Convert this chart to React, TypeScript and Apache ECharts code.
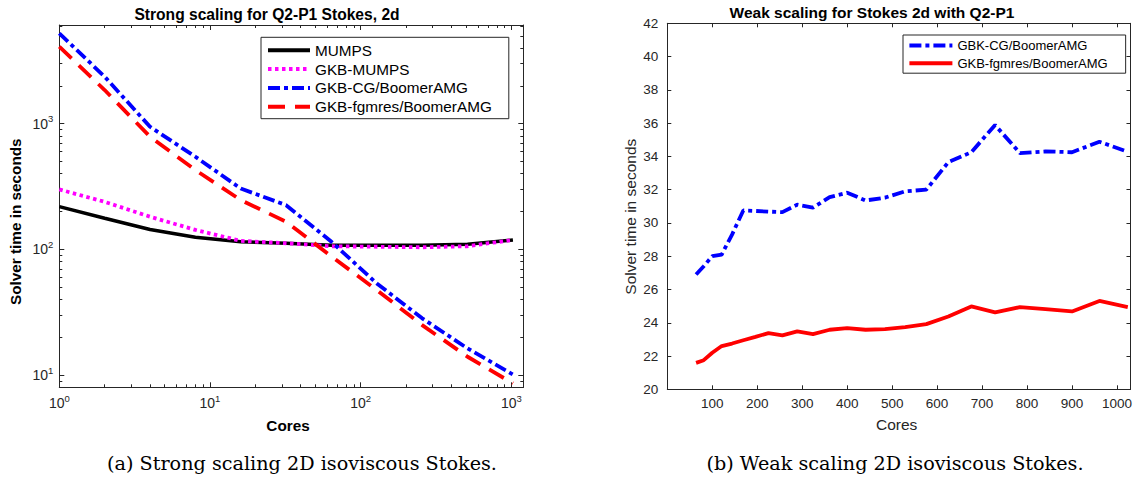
import React, { useEffect, useRef } from 'react';
import * as echarts from 'echarts';

// ---- Strong scaling (left) ----
const strongCores = [1, 2, 4, 8, 16, 32, 64, 128, 256, 512, 1024];
const mumps = [219, 177, 144, 125, 115, 112, 108, 108, 108, 110, 119];
const gkbMumps = [300, 239, 182, 143, 117, 112, 106, 105, 104, 106, 119];
const gkbCg = [5236, 2366, 946, 546, 305, 225, 115, 53.6, 28.3, 16.3, 10.1];
const gkbFgmres = [4100, 1853, 788, 428, 247, 166, 88, 47.4, 25, 14, 8.6];

// ---- Weak scaling (right) ----
const weakCores = [64, 81, 100, 121, 144, 169, 196, 225, 256, 289, 324, 361, 400, 441, 484, 529, 576, 625, 676, 729, 784, 841, 900, 961, 1024];
const weakCg = [26.9, 27.4, 28.0, 28.1, 29.3, 30.75, 30.72, 30.68, 30.65, 31.1, 30.92, 31.55, 31.82, 31.35, 31.52, 31.9, 32.0, 33.65, 34.25, 35.88, 34.2, 34.3, 34.25, 34.88, 34.28];
const weakFgmres = [21.59, 21.75, 22.2, 22.6, 22.75, 22.95, 23.15, 23.38, 23.24, 23.48, 23.32, 23.58, 23.68, 23.58, 23.62, 23.74, 23.92, 24.38, 24.98, 24.62, 24.94, 24.82, 24.68, 25.31, 24.94];

const strongLegend = ['MUMPS', 'GKB-MUMPS', 'GKB-CG/BoomerAMG', 'GKB-fgmres/BoomerAMG'];
const weakLegend = ['GBK-CG/BoomerAMG', 'GKB-fgmres/BoomerAMG '];

const AXIS = '#262626';
const SANS = "'Liberation Sans', Arial, Helvetica, sans-serif";
const SERIF = "'DejaVu Serif', 'Liberation Serif', serif";

const supLabel = (v: number) => {
  const e = Math.log10(v);
  const r = Math.round(e);
  if (Math.abs(e - r) > 1e-6) return '';
  return `{b|10}{s|${r}}`;
};
const richSup = {
  b: { fontSize: 14, fontFamily: SANS, color: AXIS, lineHeight: 20 },
  s: { fontSize: 9.5, fontFamily: SANS, color: AXIS, lineHeight: 10, verticalAlign: 'top' },
};

const line = { show: true, onZero: false, lineStyle: { color: AXIS, width: 1 } };
const tick = (len: number) => ({ show: true, inside: true, length: len, lineStyle: { color: AXIS, width: 1 } });
const minor = { show: true, splitNumber: 9, length: 3, lineStyle: { color: AXIS, width: 1 } };

function buildOption() {
  const logX = (pos: string, labels: boolean) => ({
    type: 'log', logBase: 10, gridIndex: 0, position: pos, min: 1, max: 1200,
    axisLine: line, axisTick: tick(5), minorTick: minor,
    splitLine: { show: false }, minorSplitLine: { show: false },
    axisLabel: labels
      ? { show: true, margin: 6, formatter: supLabel, rich: richSup, showMinLabel: true, showMaxLabel: false }
      : { show: false },
  });
  const logY = (pos: string, labels: boolean) => ({
    type: 'log', logBase: 10, gridIndex: 0, position: pos, min: 8, max: 6100,
    axisLine: line, axisTick: tick(5), minorTick: minor,
    splitLine: { show: false }, minorSplitLine: { show: false },
    axisLabel: labels
      ? { show: true, margin: 6, formatter: supLabel, rich: richSup, showMinLabel: false, showMaxLabel: false }
      : { show: false },
  });
  const linX = (pos: string, labels: boolean) => ({
    type: 'value', gridIndex: 1, position: pos, min: 0, max: 1030, interval: 100,
    axisLine: line, axisTick: tick(4), splitLine: { show: false },
    axisLabel: labels
      ? {
          show: true, margin: 7, fontSize: 13.5, fontFamily: SANS, color: AXIS,
          formatter: (v: number) => (v > 0 && v % 100 === 0 ? String(v) : ''),
        }
      : { show: false },
  });
  const linY = (pos: string, labels: boolean) => ({
    type: 'value', gridIndex: 1, position: pos, min: 20, max: 42, interval: 2,
    axisLine: line, axisTick: tick(4), splitLine: { show: false },
    axisLabel: labels
      ? { show: true, margin: 9, fontSize: 13.5, fontFamily: SANS, color: AXIS }
      : { show: false },
  });

  const pairs = (xs: number[], ys: number[]) => xs.map((x, i) => [x, ys[i]]);
  const ser = (name: string, xi: number, data: any[], color: string, type: any, width: number) => ({
    type: 'line', name, xAxisIndex: xi, yAxisIndex: xi, data,
    symbol: 'none', showSymbol: false, smooth: false,
    lineStyle: { color, width, type, cap: 'butt' },
    itemStyle: { color },
  });

  const txt = (text: string, x: number, y: number, size: number, bold: boolean, extra: any = {}) => ({
    type: 'text', x, y, silent: true,
    style: {
      text, fontSize: size, fontFamily: SANS, fontWeight: bold ? 'bold' : 'normal',
      fill: bold ? '#000' : AXIS, align: 'center', verticalAlign: 'middle',
    },
    ...extra,
  });

  const caption = (text: string, x: number) => ({
    type: 'text', x, y: 463, silent: true,
    style: { text, fontSize: 19.2, fontFamily: SERIF, fill: '#000', align: 'center', verticalAlign: 'middle' },
  });

  return {
    animation: false,
    backgroundColor: '#ffffff',
    grid: [
      { left: 59.3, top: 25, width: 464, height: 362.3, containLabel: false },
      { left: 667.3, top: 23.3, width: 463.4, height: 366, containLabel: false },
    ],
    xAxis: [logX('bottom', true), logX('top', false), linX('bottom', true), linX('top', false)],
    yAxis: [logY('left', true), logY('right', false), linY('left', true), linY('right', false)],
    legend: [
      {
        orient: 'vertical', left: 261, top: 37.3,
        data: strongLegend,
        itemWidth: 42, itemHeight: 14, itemGap: 3.8,
        padding: [5.5, 17, 4.5, 5],
        borderColor: AXIS, borderWidth: 1, backgroundColor: '#fff',
        textStyle: { fontSize: 15.3, fontFamily: SANS, color: '#000', lineHeight: 15 },
        lineStyle: { width: 4 },
        itemStyle: { opacity: 0, borderWidth: 0 },
        selectedMode: false,
      },
      {
        orient: 'vertical', left: 903, top: 35,
        data: weakLegend,
        formatter: (n: string) => n.trim(),
        itemWidth: 43, itemHeight: 12, itemGap: 4.7,
        padding: [4, 18, 3.5, 4.4],
        borderColor: AXIS, borderWidth: 1, backgroundColor: '#fff',
        textStyle: { fontSize: 13, fontFamily: SANS, color: '#000', lineHeight: 12 },
        lineStyle: { width: 4 },
        itemStyle: { opacity: 0, borderWidth: 0 },
        selectedMode: false,
      },
    ],
    series: [
      ser('MUMPS', 0, pairs(strongCores, mumps), '#000000', 'solid', 3.5),
      ser('GKB-MUMPS', 0, pairs(strongCores, gkbMumps), '#FF00FF', [3.5, 3.5], 3.8),
      ser('GKB-CG/BoomerAMG', 0, pairs(strongCores, gkbCg), '#0000FF', [12, 4, 4, 4], 3.8),
      ser('GKB-fgmres/BoomerAMG', 0, pairs(strongCores, gkbFgmres), '#FF0000', [17, 10], 3.8),
      ser('GBK-CG/BoomerAMG', 2, pairs(weakCores, weakCg), '#0000FF', [12, 4, 4, 4], 3.8),
      ser('GKB-fgmres/BoomerAMG ', 2, pairs(weakCores, weakFgmres), '#FF0000', 'solid', 3.8),
    ],
    graphic: [
      txt('Strong scaling for Q2-P1 Stokes, 2d', 267, 14, 15.6, true),
      txt('Weak scaling for Stokes 2d with Q2-P1', 872, 12, 15.5, true),
      txt('Solver time in seconds', 15, 221.7, 15.3, true, { rotation: Math.PI / 2 }),
      txt('Solver time in seconds', 630, 216.7, 15.5, false, { rotation: Math.PI / 2 }),
      txt('Cores', 288, 425.4, 15.3, true),
      txt('Cores', 896.7, 424.7, 15.5, false),
      caption('(a) Strong scaling 2D isoviscous Stokes.', 302),
      caption('(b) Weak scaling 2D isoviscous Stokes.', 895),
    ],
  };
}

export default function App() {
  const ref = useRef<HTMLDivElement>(null);
  useEffect(() => {
    if (!ref.current) return;
    const chart = echarts.init(ref.current, undefined, { renderer: 'svg' });
    chart.setOption(buildOption() as any);
    return () => chart.dispose();
  }, []);
  return (
    <div
      ref={ref}
      style={{ position: 'fixed', left: 0, top: 0, width: 1135, height: 481, background: '#fff' }}
    />
  );
}
